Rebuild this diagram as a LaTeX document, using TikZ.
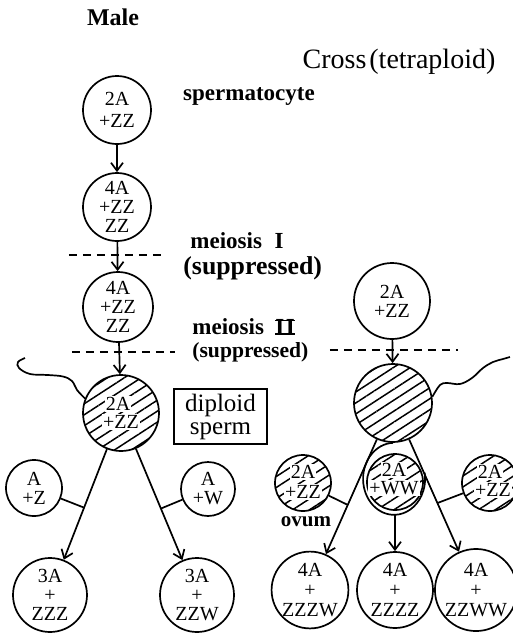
\documentclass[tikz,border=0pt]{standalone}
\usepackage{fontspec}
\setmainfont{Liberation Serif}
\usetikzlibrary{calc,arrows.meta,patterns.meta}

% Roman numeral two with joining bars
\newcommand\romtwo{\leavevmode\setbox0\hbox{I\kern0.06em I}%
  \rlap{\rule{\wd0}{0.07em}}%
  \rlap{\raisebox{\dimexpr\ht0-0.07em\relax}{\rule{\wd0}{0.07em}}}\box0}

\begin{document}
\begin{tikzpicture}[x=0.5pt,y=-0.5pt,
  ln/.style={line width=0.85pt},
  arr/.style={ln,-{Straight Barb[length=4pt,width=6pt]}},
  cell/.style={circle,draw,ln,minimum size=#1*1pt,inner sep=0pt,align=center,
    font=\fontsize{10}{9.5}\selectfont},
  hatch/.style={pattern={Lines[angle=33,distance=4.6pt,line width=0.75pt]}},
  gap/.style={fill=white,inner sep=0.5pt,font=\fontsize{10}{9.5}\selectfont},
  lbl/.style={inner sep=0pt,font=\bfseries\fontsize{11.5}{12}\selectfont},
  cut/.style={ln,dash pattern=on 4pt off 3pt}]
\useasboundingbox (0,0) rectangle (513,634);
\clip (0,0) rectangle (513,634);

% headings
\node[lbl,font=\bfseries\fontsize{12}{12}\selectfont] (male) at (113,17) {Male};
\node[inner sep=0pt,font=\fontsize{14}{15}\selectfont] (cross) at (399,62) {Cross\kern1.5pt(tetraploid)};

% male line
\node[cell=34,font=\fontsize{10}{11}\selectfont] (c1) at (117,110) {2A\\+ZZ};
\node[lbl] (sp) at (249,97) {spermatocyte};
\node[cell=34] (c2) at (117,207) {4A\\+ZZ\\ZZ};
\node[cell=35] (c3) at (118,307) {4A\\+ZZ\\ZZ};
\node[cell=38,hatch] (s) at (121,413) {};
\node[gap] at (118,404) {2A};
\node[gap] at (121,422) {+ZZ};

\draw[arr] (c1) -- (c2);
\draw[arr] (c2) -- (c3);
\draw[arr] (c3) -- (s);

% meiosis labels and cuts
\draw[cut] (69,255) -- (163,255);
\draw[cut] (72,352) -- (175,352);
\draw[cut] (330,350) -- (458,350);
\node[lbl,anchor=west] (m1) at (190,241) {meiosis\hspace{0.55em}I};
\node[lbl,anchor=west,font=\bfseries\fontsize{12.9}{13}\selectfont] (s1) at (183,268) {(suppressed)};
\node[lbl,anchor=west] (m2) at (192,327) {meiosis\hspace{0.5em}\romtwo};
\node[lbl,anchor=west,font=\bfseries\fontsize{10.8}{12}\selectfont] (s2) at (192,352) {(suppressed)};

% diploid sperm label
\node[draw,ln,minimum width=46.5pt,minimum height=27.5pt,inner sep=0pt,align=center,
  font=\fontsize{12.5}{11.5}\selectfont] (box) at (220.5,416.5) {diploid\\sperm};

% sperm tail
\coordinate (st) at (s.158);
\draw[ln] plot[smooth,tension=0.6] coordinates {(st) (77,390) (72,381) (63,376.5) (48,375) (30,374) (19,368) (18,362) (25,358)};

% crosses with normal eggs
\node[cell=28] (a1) at (34,488) {A\\+Z};
\node[cell=27] (a2) at (208,489) {A\\+W};
\node[cell=37] (b1) at (50,595) {3A\\+\\ZZZ};
\node[cell=37] (b2) at (197,595) {3A\\+\\ZZW};
\draw[arr] (s) -- (b1);
\draw[arr] (s) -- (b2);
\coordinate (j1) at ($(s)!0.52!(b1)$);
\coordinate (j2) at ($(s)!0.525!(b2)$);
\draw[ln] (a1) -- (j1);
\draw[ln] (a2) -- (j2);

% tetraploid cross
\node[cell=38] (f) at (392,301) {2A\\+ZZ};
\node[cell=39,hatch] (h) at (393,403) {};
\draw[arr] (f) -- (h);
\coordinate (ht) at (h.9);
\draw[ln] plot[smooth,tension=0.6] coordinates {(ht) (440,385) (447,383) (460,384) (472,378) (483,368) (493,362) (503,359) (510,357)};

\node[cell=28,hatch] (o1) at (303,483) {};
\node[gap] at (303,472) {2A};
\node[gap] at (303,492) {+ZZ};
\node[cell=28,hatch] (o2) at (395,482) {};
\node[gap] at (394,470) {2A};
\node[gap] at (394,488) {+WW};
\node[cell=28,hatch] (o3) at (490,483) {};
\node[gap] at (490,472) {2A};
\node[gap] at (493,490) {+ZZ};
\node[lbl,font=\bfseries\fontsize{10.5}{12}\selectfont] (ov) at (306,522) {ovum};

\node[cell=37,font=\fontsize{10}{10}\selectfont] (d1) at (310,590) {4A\\+\\ZZZW};
\node[cell=38,font=\fontsize{10}{10}\selectfont] (d2) at (395,590) {4A\\+\\ZZZZ};
\node[cell=36,font=\fontsize{10}{10}\selectfont] (d3) at (476,590) {4A\\+\\ZZWW};

\draw[arr] (h) -- (d1);
\draw[arr] (h) -- (d3);
\coordinate (k1) at ($(h)!0.545!(d1)$);
\coordinate (k3) at ($(h)!0.535!(d3)$);
\draw[ln] (o1) -- (k1);
\draw[ln] (o3) -- (k3);

% membrane loop around the fertilised ovum
\draw[ln] (h.south) arc[start angle=268,end angle=-10,x radius=31,y radius=36];
\coordinate (lb) at (395,514);
\draw[arr] (lb) -- (d2);
\end{tikzpicture}
\end{document}
